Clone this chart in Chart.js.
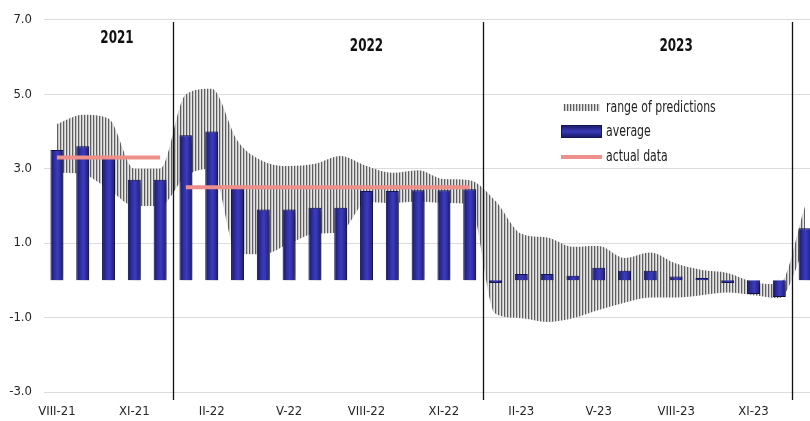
<!DOCTYPE html>
<html>
<head>
<meta charset="utf-8">
<script src="https://cdn.jsdelivr.net/npm/chart.js@4.4.1/dist/chart.umd.min.js"></script>
<style>
  html, body { margin: 0; padding: 0; background: #fff; overflow: hidden; }
  #wrap { width: 810px; height: 421px; overflow: hidden; }
</style>
</head>
<body>
<div id="wrap"><canvas id="chart-utama" width="818" height="421"></canvas></div>
<script>
const months = ["VIII-21", "IX-21", "X-21", "XI-21", "XII-21",
    "I-22", "II-22", "III-22", "IV-22", "V-22", "VI-22", "VII-22", "VIII-22", "IX-22", "X-22", "XI-22", "XII-22",
    "I-23", "II-23", "III-23", "IV-23", "V-23", "VI-23", "VII-23", "VIII-23", "IX-23", "X-23", "XI-23", "XII-23",
    "I-24"];
const average = [3.5, 3.6, 3.3, 2.7, 2.7,
    3.9, 4.0, 2.5, 1.9, 1.9, 1.95, 1.95, 2.4, 2.4, 2.42, 2.42, 2.45,
    -0.07, 0.17, 0.17, 0.12, 0.34, 0.26, 0.26, 0.1, 0.06, -0.07, -0.37, -0.45,
    1.4];
const rangeHigh = [4.2, 4.45, 4.35, 3.0, 3.0,
    5.0, 5.15, 3.75, 3.2, 3.07, 3.13, 3.34, 3.07, 2.89, 2.96, 2.72, 2.69,
    2.13, 1.25, 1.15, 0.9, 0.92, 0.6, 0.75, 0.45, 0.28, 0.2, -0.05, -0.1,
    2.0];
const rangeLow = [2.9, 2.85, 2.45, 2.0, 2.0,
    2.8, 3.0, 0.72, 0.7, 0.98, 1.25, 1.3, 2.1, 2.08, 2.12, 2.08, 2.05,
    -0.9, -1.02, -1.12, -1.02, -0.8, -0.6, -0.46, -0.46, -0.4, -0.33, -0.4, -0.48,
    0.9];
const actual = [3.3, 3.3, 3.3, 3.3, 3.3,
    2.5, 2.5, 2.5, 2.5, 2.5, 2.5, 2.5, 2.5, 2.5, 2.5, 2.5, 2.5,
    null, null, null, null, null, null, null, null, null, null, null, null,
    null];
const years = ["2021", "2022", "2023"];
const yTicks = [-3, -1, 1, 3, 5, 7];

const FONT = "'Liberation Sans Narrow', 'DejaVu Sans Condensed', sans-serif";

// hatched fill for the prediction range
const pc = document.createElement("canvas");
pc.width = 3;
pc.height = 1;
const pctx = pc.getContext("2d");
["#5e5e5e", "#c2c2c2", "#e6e6e6"].forEach((c, i) => {
    pctx.fillStyle = c;
    pctx.fillRect(i, 0, 1, 1);
});
const hatch = pctx.createPattern(pc, "repeat");

function barGradient(context) {
    const chart = context.chart;
    if (!chart.chartArea || !chart.scales.x) return "#2e2ea0";
    const x = chart.scales.x.getPixelForValue(context.dataIndex);
    const w = chart.scales.x.width / months.length * 0.5;
    const g = chart.ctx.createLinearGradient(x - w / 2, 0, x + w / 2, 0);
    g.addColorStop(0, "#17175f");
    g.addColorStop(0.3, "#2d2da0");
    g.addColorStop(0.55, "#3c3cbc");
    g.addColorStop(0.8, "#2a2a98");
    g.addColorStop(1, "#15155a");
    return g;
}

// condensed text, Calibri-like proportions
function narrowText(c, text, x, y, sx) {
    c.save();
    c.translate(x, y);
    c.scale(sx, 1);
    c.fillText(text, 0, 0);
    c.restore();
}

const decor = {
    id: "decor",
    beforeDatasetDraw(chart, args) {
        if (args.index === 0) {
            const c = chart.ctx;
            c.save();
            c.shadowColor = "rgba(0,0,0,0.55)";
            c.shadowBlur = 8;
            c.shadowOffsetX = 4;
            c.shadowOffsetY = 3;
        }
    },
    afterDatasetDraw(chart, args) {
        if (args.index === 0) chart.ctx.restore();
    },
    afterDatasetsDraw(chart) {
        const c = chart.ctx;
        const xs = chart.scales.x, ys = chart.scales.y;
        // year separators
        c.save();
        c.strokeStyle = "#111";
        c.lineWidth = 1.3;
        [4, 16, 28].forEach((i) => {
            const x = Math.round(xs.getPixelForValue(i + 0.5)) + 0.5;
            c.beginPath();
            c.moveTo(x, 22);
            c.lineTo(x, 400);
            c.stroke();
        });
        // year titles
        c.fillStyle = "#111";
        c.font = "bold 18px " + FONT;
        c.textAlign = "center";
        c.textBaseline = "middle";
        const at = [[2.33, 6.5], [12, 6.3], [24, 6.3]];
        years.forEach((t, i) => {
            narrowText(c, t, xs.getPixelForValue(at[i][0]), ys.getPixelForValue(at[i][1]), 0.74);
        });
        // legend
        c.fillStyle = hatch;
        c.fillRect(563, 104, 37, 7);
        const g = c.createLinearGradient(0, 125, 0, 138);
        g.addColorStop(0, "#17175f");
        g.addColorStop(0.5, "#3a3ab8");
        g.addColorStop(1, "#15155a");
        c.fillStyle = g;
        c.fillRect(561, 125, 41, 13);
        c.strokeStyle = "#15155a";
        c.lineWidth = 1;
        c.strokeRect(561.5, 125.5, 40, 12);
        c.strokeStyle = "#ef8f8a";
        c.lineWidth = 4;
        c.beginPath();
        c.moveTo(561, 157);
        c.lineTo(602, 157);
        c.stroke();
        c.fillStyle = "#222";
        c.font = "15px " + FONT;
        c.textAlign = "left";
        narrowText(c, "range of predictions", 606, 108, 0.81);
        narrowText(c, "average", 606, 132, 0.81);
        narrowText(c, "actual data", 606, 157, 0.81);
        c.restore();
    }
};

const ctx = document.getElementById("chart-utama");
const mychart = new Chart(ctx, {
    type: "bar",
    data: {
        labels: months,
        datasets: [
            {
                label: "average",
                data: average,
                backgroundColor: barGradient,
                borderColor: "#14145a",
                borderWidth: 1,
                barPercentage: 0.5,
                categoryPercentage: 1,
                order: 2,
            },
            {
                type: "line",
                label: "range of predictions",
                data: rangeHigh,
                borderWidth: 0,
                borderColor: "transparent",
                backgroundColor: hatch,
                pointRadius: 0,
                cubicInterpolationMode: "monotone",
                fill: "+1",
                order: 3,
            },
            {
                type: "line",
                label: "range low",
                data: rangeLow,
                borderWidth: 0,
                borderColor: "transparent",
                pointRadius: 0,
                cubicInterpolationMode: "monotone",
                fill: false,
                order: 3,
            },
            {
                type: "line",
                label: "actual data",
                data: actual,
                borderColor: "#ef8f8a",
                borderWidth: 4,
                borderCapStyle: "butt",
                pointRadius: 0,
                tension: 0,
                fill: false,
                segment: {
                    borderColor: (s) => (s.p0.parsed.y !== s.p1.parsed.y ? "transparent" : undefined),
                },
                order: 1,
            },
        ],
    },
    options: {
        responsive: false,
        animation: false,
        devicePixelRatio: 1,
        layout: { padding: { top: 18, right: 0, bottom: 0, left: 0 } },
        plugins: {
            legend: { display: false },
            tooltip: { enabled: false },
        },
        scales: {
            x: {
                grid: { display: false, drawTicks: false },
                border: { display: false },
                ticks: {
                    autoSkip: false,
                    maxRotation: 0,
                    padding: 12,
                    color: "#262626",
                    font: { family: FONT, size: 13 },
                    callback: function (val, i) {
                        return i % 3 === 0 ? months[i] : "";
                    },
                },
                afterFit: (scale) => { scale.height = 29; },
            },
            y: {
                min: -3,
                max: 7,
                afterBuildTicks: (scale) => { scale.ticks = yTicks.map((v) => ({ value: v })); },
                grid: { color: "#dcdcdc", lineWidth: 1, drawTicks: false },
                border: { display: false },
                ticks: {
                    padding: 12,
                    color: "#262626",
                    font: { family: FONT, size: 13 },
                    callback: (v) => v.toFixed(1),
                },
                afterFit: (scale) => { scale.width = 44; },
            },
        },
    },
    plugins: [decor],
});
</script>
</body>
</html>
